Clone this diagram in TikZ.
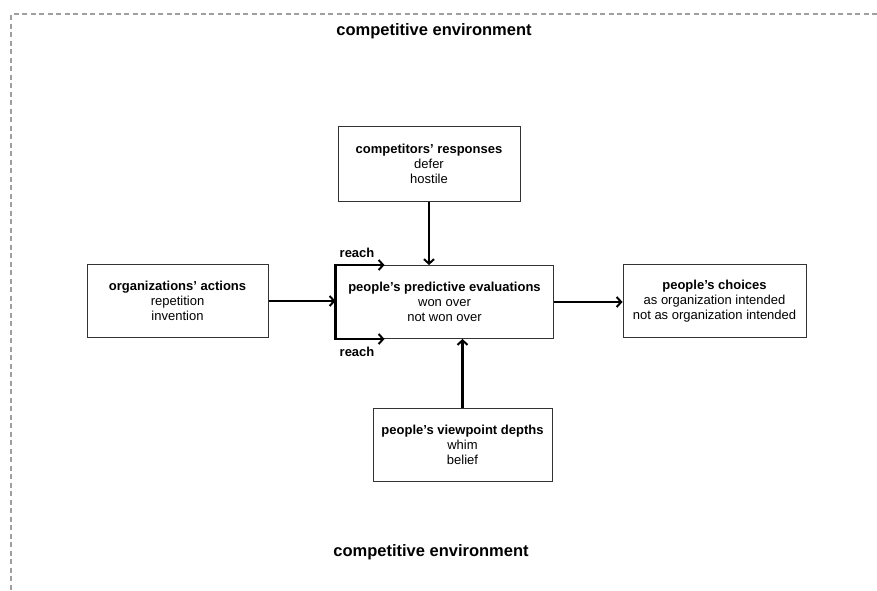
\documentclass[tikz,border=0pt]{standalone}
\usepackage{fontspec}
\setmainfont{Liberation Sans}
\usetikzlibrary{arrows.meta}
\tikzset{
	factor/.style={
			draw=black!80, line width=1pt, fill=white,
			align=center, inner sep=0pt,
			font=\fontsize{13}{15}\selectfont
		},
	barb/.tip={Straight Barb[length=4.5pt,width=10pt,line width=2pt]},
	flow/.style={-barb, line width=2.2pt, black},
	envborder/.style={dash pattern=on 5pt off 3.5pt, gray!75, line width=1.4pt},
	envlabel/.style={font=\fontsize{16.5}{18}\selectfont\bfseries},
	reachlabel/.style={font=\fontsize{13}{15}\selectfont\bfseries, inner sep=0pt}
}

\begin{document}
\begin{tikzpicture}[x=1pt, y=-1pt]
		\useasboundingbox (0, 0) rectangle (877, 590);

		\draw[envborder]	(877, 14) -- (11, 14) -- (11, 590);

		\node[envlabel] (envtop) at (434, 31) {competitive environment};
		\node[envlabel] (envbottom) at (431, 552) {competitive environment};

		\node[factor, minimum width=182pt, minimum height=75pt] (comp) at (429, 163.5)
			{\textbf{competitors’ responses}\\defer\\hostile};
		\node[factor, minimum width=181pt, minimum height=73pt] (orgs) at (177.5, 301)
			{\textbf{organizations’ actions}\\repetition\\invention};
		\node[factor, minimum width=217pt, minimum height=73pt] (pred) at (444.5, 302)
			{\textbf{people’s predictive evaluations}\\won over\\not won over};
		\node[factor, minimum width=183pt, minimum height=73pt] (choices) at (714.5, 301)
			{\textbf{people’s choices}\\as organization  intended\\not as organization  intended};
		\node[factor, minimum width=179pt, minimum height=73pt] (view) at (462.5, 445)
			{\textbf{people’s viewpoint depths}\\whim\\belief};

		\draw[flow]	(comp.south) -- (comp.south |- pred.north);
		\draw[flow]	(view.north) -- (view.north |- pred.south);
		\draw[flow]	(orgs.east) -- (orgs.east -| pred.west);
		\draw[flow]	(pred.east) -- (pred.east -| choices.west);

		\coordinate (reachtop) at ([xshift=49pt]pred.north west);
		\coordinate (reachbottom) at ([xshift=49pt]pred.south west);
		\draw[flow, barb-barb]	(reachtop) -- (pred.north west) -- (pred.south west) -- (reachbottom);

		\node[reachlabel, anchor=south west] (reachup) at ([xshift=4pt, yshift=7pt]pred.north west) {reach};
		\node[reachlabel, anchor=north west] (reachdown) at ([xshift=4pt, yshift=-8pt]pred.south west) {reach};
	\end{tikzpicture}
\end{document}
